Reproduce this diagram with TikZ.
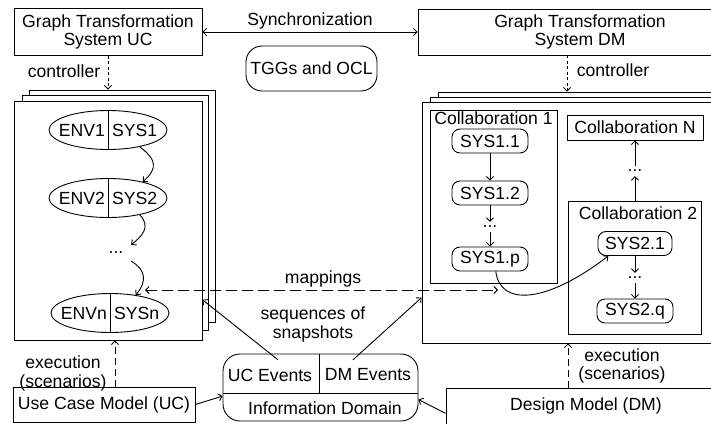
\documentclass[tikz,border=0pt]{standalone}
\usepackage{fontspec}
\setmainfont{Liberation Sans}
\usetikzlibrary{arrows.meta,positioning,shapes.geometric}

\tikzstyle{boxNode} = [rectangle, draw=black, line width=0.9pt, text centered, align=center, inner sep=1pt]
\tikzstyle{roundNode} = [rectangle, rounded corners=8pt, draw=black, line width=0.9pt, minimum width=76pt, minimum height=24pt, inner sep=1pt]
\tikzstyle{pageNode} = [rectangle, draw=black, fill=white, line width=0.9pt]
\tikzstyle{stateNode} = [ellipse, draw=black, line width=0.9pt, minimum width=118pt, minimum height=39pt, inner sep=0pt]
\tikzstyle{halfText} = [inner sep=0pt]
\tikzstyle{dotsNode} = [inner sep=0pt, minimum height=10pt]
\tikzstyle{arrow} = [line width=0.9pt, ->, >={Straight Barb[length=3.5pt,width=7pt]}]
\tikzstyle{ctrlArrow} = [arrow, dash pattern=on 3pt off 2.5pt]
\tikzstyle{execArrow} = [arrow, dash pattern=on 7pt off 4pt]
\tikzstyle{mapArrow} = [arrow, <->, dash pattern=on 11pt off 5pt]

\begin{document}
\begin{tikzpicture}[x=1pt, y=-1pt, node distance=52pt, font=\fontsize{17.6}{18.5}\selectfont]
    \useasboundingbox (0,0) rectangle (711,423);
    \clip (0,0) rectangle (711,423);
    \fill[white] (0,0) rectangle (711,423);

    % graph transformation systems
    \node (gtsUC)[boxNode, minimum width=188pt, minimum height=47pt] at (108,32) {Graph Transformation\\System UC};
    \node (gtsDM)[boxNode, minimum width=324pt, minimum height=46pt] at (580,32) {Graph Transformation\\System DM};
    \node (tgg)[boxNode, rounded corners=16pt, minimum width=131pt, minimum height=45pt] at (311.5,68.5) {TGGs and OCL};
    \node (sync) at (310,21) {Synchronization};
    \draw [arrow, <->] (gtsUC.east) -- (gtsDM.west);

    % stack of UC snapshots
    \node (ucBack)[pageNode, minimum width=186pt, minimum height=232pt] at (122,206) {};
    \node (ucMid)[pageNode, minimum width=186pt, minimum height=235pt] at (115,212.5) {};
    \node (ucFront)[pageNode, minimum width=188pt, minimum height=239pt] at (108,220.5) {};

    \node (env1)[stateNode] at (108,130) {};
    \node (env1a)[halfText, left=3pt of env1.center] {ENV1};
    \node (env1b)[halfText, right=4pt of env1.center] {SYS1};
    \draw [line width=0.9pt] (env1.north) -- (env1.south);

    \node (env2)[stateNode] at (108,198) {};
    \node (env2a)[halfText, left=3pt of env2.center] {ENV2};
    \node (env2b)[halfText, right=4pt of env2.center] {SYS2};
    \draw [line width=0.9pt] (env2.north) -- (env2.south);

    \node (dotsUC)[dotsNode, minimum width=30pt, minimum height=16pt] at (116,253) {...};

    \node (envn)[stateNode] at (110,313) {};
    \node (envna)[halfText, left=3pt of envn.center] {ENVn};
    \node (envnb)[halfText, right=4pt of envn.center] {SYSn};
    \draw [line width=0.9pt] (envn.north) -- (envn.south);

    \draw [arrow] (env1.-28) .. controls +(16,12) and +(16,-14) .. (env2.25);
    \draw [arrow] (env2.-28) .. controls +(12,12) and +(10,-8) .. (dotsUC.north east);
    \draw [arrow] (dotsUC.south east) .. controls +(14,8) and +(12,-14) .. (envn.35);

    % stack of DM snapshots
    \node (dmBack)[pageNode, minimum width=294pt, minimum height=236pt] at (585,210) {};
    \node (dmMid)[pageNode, minimum width=294pt, minimum height=236pt] at (577,215) {};
    \node (dmFront)[pageNode, minimum width=294pt, minimum height=241pt] at (569,222.5) {};

    \node (collab1)[boxNode, minimum width=127pt, minimum height=173pt] at (493.5,196.5) {};
    \node (collab1L)[anchor=base] at (493.5,124.5) {Collaboration 1};
    \node (sys11)[roundNode] at (490,141) {SYS1.1};
    \node (sys12)[roundNode, below of=sys11] {SYS1.2};
    \node (dots1)[dotsNode, below of=sys12, node distance=34pt] {...};
    \node (sys1p)[roundNode, below of=dots1, node distance=32pt] {SYS1.p};
    \draw [arrow] (sys11) -- (sys12);
    \draw [arrow] (sys12) -- (dots1);
    \draw [arrow] (dots1) -- (sys1p);

    \node (collabN)[boxNode, minimum width=136pt, minimum height=25pt] at (635,127.5) {Collaboration N};
    \node (dotsN)[dotsNode] at (635,171) {...};
    \node (collab2)[boxNode, minimum width=133pt, minimum height=133pt] at (635,267.5) {};
    \node (collab2L)[anchor=base] at (638,219.5) {Collaboration 2};
    \node (sys21)[roundNode, minimum width=74pt] at (635,243.5) {SYS2.1};
    \node (dots2)[dotsNode, below of=sys21, node distance=34.5pt] {...};
    \node (sys2q)[roundNode, below of=dots2, node distance=33pt] {SYS2.q};
    \draw [arrow] (collab2) -- (dotsN);
    \draw [arrow] (dotsN) -- (collabN);
    \draw [arrow] (sys21) -- (dots2);
    \draw [arrow] (dots2) -- (sys2q);
    \draw [arrow] (sys1p.-65) .. controls +(4,34) and +(-64,49) .. (sys21.205);

    % controllers
    \coordinate (ctDM) at ([xshift=-13pt]gtsDM.south);
    \draw [ctrlArrow] (gtsUC.south) -- (gtsUC.south |- ucBack.north);
    \draw [ctrlArrow] (ctDM) -- (ctDM |- dmBack.north);
    \node (ctrlUC) at (64,71) {controller};
    \node (ctrlDM) at (613,70) {controller};

    % mappings
    \coordinate (mapL) at (145,290);
    \coordinate (mapR) at (498,290);
    \draw [mapArrow] (mapL) -- (mapR);
    \node (map) at (323,279) {mappings};

    % models and information domain
    \node (ucModel)[boxNode, minimum width=182pt, minimum height=35pt] at (104,404.5) {Use Case Model (UC)};
    \node (dmModel)[boxNode, minimum width=280pt, minimum height=36pt] at (586,406) {Design Model (DM)};
    \node (infoDom)[rectangle, rounded corners=17pt, draw=black, line width=0.9pt, minimum width=195pt, minimum height=67pt] at (320.5,387.5) {};
    \draw [line width=0.9pt] (223,393) -- (418,393);
    \draw [line width=0.9pt] (319,354) -- (319,393);
    \node (ucEv)[halfText, minimum height=30pt] at (270,375) {UC Events};
    \node (dmEv)[halfText, minimum height=30pt] at (368,375) {DM Events};
    \node (infoL) at (325,408) {Information Domain};
    \node (seq)[align=center] at (313,324.5) {sequences of\\snapshots};

    \draw [arrow] (ucModel.east) -- (infoDom.185);
    \draw [arrow] (dmModel.183) -- (infoDom.-7);
    \draw [arrow] ([xshift=8pt]ucEv.north) -- (ucFront.-40);
    \draw [arrow] ([xshift=-15pt]dmEv.north) -- (dmFront.207);

    % executions
    \coordinate (exUC) at ([xshift=11pt]ucModel.north);
    \coordinate (exDM) at ([xshift=-18pt]dmModel.north);
    \draw [execArrow] (exUC) -- (exUC |- ucFront.south);
    \draw [execArrow] (exDM) -- (exDM |- dmFront.south);
    \node (execUC)[align=center] at (63,373.5) {execution\\(scenarios)};
    \node (execDM)[align=center] at (622,366) {execution\\(scenarios)};
\end{tikzpicture}
\end{document}
